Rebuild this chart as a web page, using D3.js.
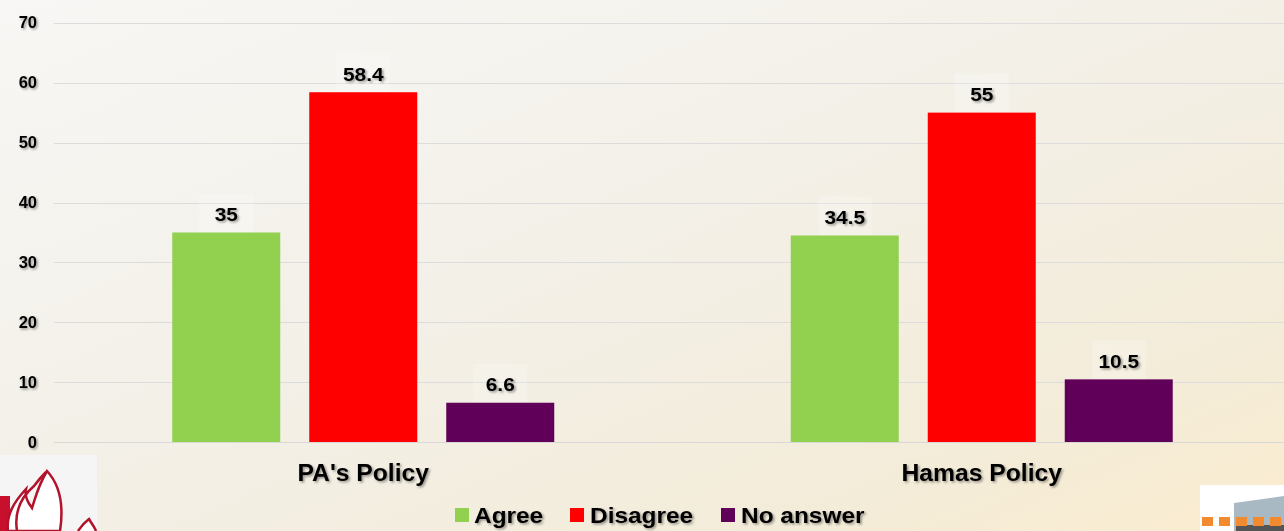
<!DOCTYPE html>
<html><head><meta charset="utf-8">
<script src="https://cdn.jsdelivr.net/npm/d3@7"></script>
<style>html,body{margin:0;padding:0;overflow:hidden;}svg{display:block;font-family:"Liberation Sans",Arial,sans-serif;}</style>
</head><body>
<svg id="c" width="1284" height="531"></svg>
<script>
const categories = ["PA's Policy", "Hamas Policy"];
const seriesNames = ["Agree", "Disagree", "No answer"];
const agree = [35, 34.5];
const disagree = [58.4, 55];
const noAnswer = [6.6, 10.5];
const yTicks = [0, 10, 20, 30, 40, 50, 60, 70];
const colors = ["#92d050", "#ff0000", "#610058"];

const seriesValues = [agree, disagree, noAnswer];
const W = 1284, H = 531;
const svg = d3.select("#c");
const defs = svg.append("defs");
const g1 = defs.append("linearGradient").attr("id","bg").attr("x1","0").attr("y1","0").attr("x2","1").attr("y2","1");
g1.append("stop").attr("offset","0").attr("stop-color","#f8f7f5");
g1.append("stop").attr("offset","0.45").attr("stop-color","#f3f0e8");
g1.append("stop").attr("offset","0.8").attr("stop-color","#f3ecd9");
g1.append("stop").attr("offset","1").attr("stop-color","#fbeccf");
const f = defs.append("filter").attr("id","sh").attr("x","-20%").attr("y","-30%").attr("width","140%").attr("height","160%");
f.append("feDropShadow").attr("dx",1.5).attr("dy",1.5).attr("stdDeviation",1.1).attr("flood-color","#000").attr("flood-opacity",0.4);

svg.append("rect").attr("width",W).attr("height",H).attr("fill","url(#bg)");

const y = d3.scaleLinear().domain([0,70]).range([442.3, 22.7]);
const x0 = d3.scaleBand().domain(categories).range([54, 1291]).paddingInner(0).paddingOuter(0);
const groupSpan = 382;
const x1 = d3.scaleBand().domain(seriesNames).range([0, groupSpan]).paddingInner(29/137).paddingOuter(0);
const groupOffset = (x0.bandwidth() - groupSpan)/2;

// grid
svg.append("g").selectAll("line").data(yTicks).join("line")
  .attr("x1",54).attr("x2",W).attr("y1",d=>Math.round(y(d))+0.5).attr("y2",d=>Math.round(y(d))+0.5)
  .attr("stroke","#dcdcdc").attr("stroke-width",1.2);

// y axis labels
const yAxis = d3.axisLeft(y).tickValues(yTicks).tickSize(0).tickPadding(0).tickFormat(d3.format("d"));
const ya = svg.append("g").attr("transform","translate(37,0)").call(yAxis);
ya.select(".domain").remove();
ya.selectAll("text").attr("font-size",16.5).attr("font-weight","bold").attr("fill","#000")
  .attr("font-family","'Liberation Sans',Arial,sans-serif").attr("filter","url(#sh)");

// bars
const groups = svg.append("g").selectAll("g").data(categories).join("g")
  .attr("transform",d=>`translate(${x0(d)+groupOffset},0)`);
groups.each(function(cat, ci){
  const gg = d3.select(this);
  seriesNames.forEach((s, si)=>{
    const v = seriesValues[si][ci];
    const bx = x1(s), bw = x1.bandwidth();
    gg.append("rect").attr("x",bx+bw/2-27).attr("y",y(v)-39).attr("width",54).attr("height",39)
      .attr("fill","#ffffff").attr("opacity",0.22);
    gg.append("rect").attr("x",bx).attr("y",y(v)).attr("width",bw).attr("height",y(0)-y(v))
      .attr("fill",colors[si]);
    gg.append("text").attr("transform",`translate(${bx+bw/2},${y(v)-11.5}) scale(1.13,1)`).attr("text-anchor","middle")
      .attr("font-size",18.5).attr("font-weight","bold").attr("fill","#000").attr("filter","url(#sh)")
      .text(String(v));
  });
});

// baseline
svg.append("line").attr("x1",54).attr("x2",W).attr("y1",442.5).attr("y2",442.5).attr("stroke","#d8d8d8").attr("stroke-width",1.2);

// category labels
const xAxis = d3.axisBottom(x0).tickSize(0).tickPadding(0);
const xa = svg.append("g").attr("transform","translate(0,0)").call(xAxis);
xa.select(".domain").remove();
xa.selectAll(".tick").attr("transform",d=>`translate(${x0(d)+x0.bandwidth()/2},481) scale(1.05,1)`);
xa.selectAll("text").attr("y",0).attr("dy",null).attr("font-size",23.5).attr("font-weight","bold").attr("fill","#000")
  .attr("font-family","'Liberation Sans',Arial,sans-serif").attr("filter","url(#sh)");

// legend
const legendItems = [{x:455,tx:474},{x:570,tx:590},{x:721,tx:741}];
const lg = svg.append("g");
seriesNames.forEach((s,i)=>{
  lg.append("rect").attr("x",legendItems[i].x).attr("y",508).attr("width",14).attr("height",14).attr("fill",colors[i]);
  lg.append("text").attr("transform",`translate(${legendItems[i].tx},523) scale(1.11,1)`).attr("font-size",22).attr("font-weight","bold")
    .attr("fill","#000").attr("filter","url(#sh)").text(s);
});

// bottom-left logo (decorative)
const logo = svg.append("g");
logo.append("rect").attr("x",0).attr("y",455).attr("width",97).attr("height",76).attr("fill","#f5f5f5");
logo.append("rect").attr("x",0).attr("y",496).attr("width",10).attr("height",35).attr("fill","#c8102e");
logo.append("path").attr("d","M8,531 C6,515 14,502 26,489 C24,499 30,505 32,508 C36,496 38,486 47,471 C60,485 64,505 60,531 Z")
  .attr("fill","#fff").attr("stroke","#b3122b").attr("stroke-width",2.5);
logo.append("path").attr("d","M17,531 C14,512 20,498 34,486 C40,478 44,474 46,472")
  .attr("fill","none").attr("stroke","#b3122b").attr("stroke-width",2.5);
logo.append("path").attr("d","M78,531 C80,528 85,522 89,519 C92,524 95,528 96,531")
  .attr("fill","#fff").attr("stroke","#b3122b").attr("stroke-width",2.5);

// bottom-right logo (decorative)
const rl = svg.append("g");
rl.append("rect").attr("x",1200).attr("y",485).attr("width",84).attr("height",46).attr("fill","#ffffff");
rl.append("path").attr("d","M1234,503 L1284,496 L1284,531 L1234,531 Z").attr("fill","#a9b9c4");
rl.append("rect").attr("x",1236).attr("y",525).attr("width",48).attr("height",6).attr("fill","#555");
[1202,1219,1236,1253,1270].forEach(xx=>{
  rl.append("rect").attr("x",xx).attr("y",517).attr("width",11).attr("height",9).attr("fill","#f28a30");
});
</script>
</body></html>
